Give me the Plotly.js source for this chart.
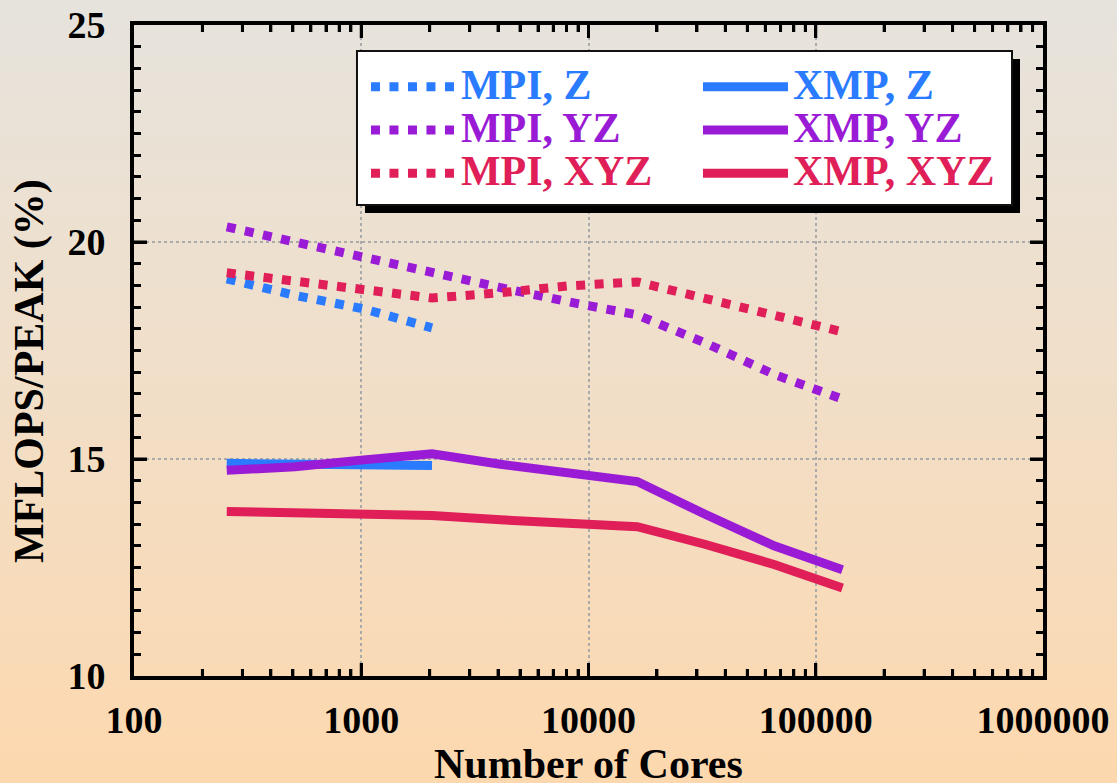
<!DOCTYPE html>
<html>
<head>
<meta charset="utf-8">
<script src="https://cdn.plot.ly/plotly-3.0.1.min.js"></script>
<style>
  html, body { margin: 0; padding: 0; }
  #chart { width: 1117px; height: 783px; background: linear-gradient(to bottom, #e6e3dd 0%, #f0dfca 45%, #fdd8ae 100%); }
</style>
</head>
<body>
<div id="chart"></div>
<script>
const cores = [256, 512, 1024, 2048, 4096, 8192, 16384, 32768, 65536, 131072];
const coresZ = [256, 512, 1024, 2048];

const mpiZ   = [19.15, 18.77, 18.46, 18.02];
const mpiYZ  = [20.35, 20.00, 19.64, 19.25, 18.95, 18.62, 18.32, 17.67, 16.95, 16.38];
const mpiXYZ = [19.29, 19.08, 18.92, 18.71, 18.83, 18.99, 19.08, 18.71, 18.30, 17.93];

const xmpZ   = [14.90, 14.88, 14.84, 14.85];
const xmpYZ  = [14.74, 14.82, 14.98, 15.12, 14.88, 14.67, 14.48, 13.72, 13.00, 12.45];
const xmpXYZ = [13.79, 13.77, 13.74, 13.70, 13.60, 13.51, 13.44, 13.03, 12.57, 12.03];

const seriesNames = ['MPI, Z', 'XMP, Z', 'MPI, YZ', 'XMP, YZ', 'MPI, XYZ', 'XMP, XYZ'];
const xTickVals = [100, 1000, 10000, 100000, 1000000];
const xTickText = ['100', '1000', '10000', '100000', '1000000'];
const xInnerMajor = [1000, 10000, 100000];
const yTickVals = [10, 15, 20, 25];
const yInnerMajor = [15, 20];
const decades = [100, 1000, 10000, 100000];
const minorMultiples = [2, 3, 4, 5, 6, 7, 8, 9];
const xMinorVals = [];
decades.forEach(d => minorMultiples.forEach(m => xMinorVals.push(d * m)));

const xTitle = 'Number of Cores';
const yTitle = 'MFLOPS/PEAK (%)';

const BLUE = '#2a7bff', PURPLE = '#9a1bd6', RED = '#e01e58';
const DOT = '9px,9.5px';

function nm(text, color) { return '<span style="color:' + color + ';font-size:42px">' + text + '</span>'; }

const traces = [
  {x: coresZ, y: mpiZ,  name: nm(seriesNames[0], BLUE),   line: {color: BLUE, width: 9, dash: DOT}},
  {x: coresZ, y: xmpZ,  name: nm(seriesNames[1], BLUE),   line: {color: BLUE, width: 9}},
  {x: cores,  y: mpiYZ, name: nm(seriesNames[2], PURPLE), line: {color: PURPLE, width: 9, dash: DOT}},
  {x: cores,  y: xmpYZ, name: nm(seriesNames[3], PURPLE), line: {color: PURPLE, width: 9}},
  {x: cores,  y: mpiXYZ, name: nm(seriesNames[4], RED),   line: {color: RED, width: 9, dash: DOT}},
  {x: cores,  y: xmpXYZ, name: nm(seriesNames[5], RED),   line: {color: RED, width: 9}}
].map(t => Object.assign({type: 'scatter', mode: 'lines'}, t));

const FONT = 'Liberation Serif, Times New Roman, serif';

// plot-area size in px (for tick-mark lengths in paper units)
const PLOT_W = 1117 - 134 - 74, PLOT_H = 783 - 25 - 107;
const MINOR_LEN = 7, MAJOR_LEN = 13;

// tick marks drawn as shapes positioned by the x axis scale (both bottom and top)
const tickShapes = [];
function xTick(v, len) {
  const h = len / PLOT_H;
  const st = {type: 'line', xref: 'x', yref: 'paper', x0: v, x1: v, line: {color: '#000', width: 3}, layer: 'above'};
  tickShapes.push(Object.assign({}, st, {y0: 0, y1: h}));
  tickShapes.push(Object.assign({}, st, {y0: 1, y1: 1 - h}));
}
function yTick(v, len) {
  const w = len / PLOT_W;
  const st = {type: 'line', xref: 'paper', yref: 'y', y0: v, y1: v, line: {color: '#000', width: 3}, layer: 'above'};
  tickShapes.push(Object.assign({}, st, {x0: 0, x1: w}));
  tickShapes.push(Object.assign({}, st, {x0: 1, x1: 1 - w}));
}
xMinorVals.forEach(v => xTick(v, MINOR_LEN));
xInnerMajor.forEach(v => xTick(v, MAJOR_LEN));
yInnerMajor.forEach(v => yTick(v, MAJOR_LEN));

const layout = {
  width: 1117, height: 783,
  paper_bgcolor: 'rgba(0,0,0,0)',
  plot_bgcolor: 'rgba(0,0,0,0)',
  margin: {l: 134, r: 74, t: 25, b: 107},
  font: {family: FONT, color: '#000', weight: 'bold'},
  showlegend: true,
  legend: {
    orientation: 'h',
    x: 0.2552, y: 0.9462, xanchor: 'left', yanchor: 'top',
    bgcolor: 'rgba(0,0,0,0)', borderwidth: 0,
    font: {family: FONT, size: 31, weight: 'bold'},
    itemwidth: 85, entrywidth: 232, entrywidthmode: 'pixels',
    traceorder: 'normal'
  },
  xaxis: {
    type: 'log', range: [2, 6],
    tickvals: xTickVals, ticktext: xTickText,
    ticks: 'inside', ticklen: MAJOR_LEN, tickwidth: 3, tickcolor: '#000',
    minor: {ticks: 'inside', ticklen: MINOR_LEN, tickwidth: 3, tickcolor: '#000', tickvals: xMinorVals, showgrid: false},
    showline: true, linewidth: 4, linecolor: '#000', mirror: 'allticks',
    showgrid: true, gridcolor: '#aaaaaa', gridwidth: 2, griddash: 'dot',
    zeroline: false,
    tickfont: {family: FONT, size: 38, weight: 'bold'},
    ticklabelstandoff: 7
  },
  yaxis: {
    range: [10, 25],
    tickvals: yTickVals,
    ticks: 'inside', ticklen: MAJOR_LEN, tickwidth: 3, tickcolor: '#000',
    minor: {ticks: 'inside', ticklen: MINOR_LEN, tickwidth: 3, tickcolor: '#000', dtick: 0.5, showgrid: false},
    showline: true, linewidth: 4, linecolor: '#000', mirror: 'allticks',
    showgrid: true, gridcolor: '#aaaaaa', gridwidth: 2, griddash: 'dot',
    zeroline: false,
    tickfont: {family: FONT, size: 38, weight: 'bold'},
    ticklabelstandoff: 17
  },
  annotations: [
    {text: yTitle, xref: 'paper', yref: 'paper', x: -0.1155, y: 0.4685,
     xanchor: 'center', yanchor: 'middle', textangle: -90, showarrow: false,
     font: {family: FONT, size: 42, weight: 'bold', color: '#000'}},
    {text: xTitle, xref: 'paper', yref: 'paper', x: 0.5, y: -0.1352,
     xanchor: 'center', yanchor: 'middle', showarrow: false,
     font: {family: FONT, size: 42, weight: 'bold', color: '#000'}}
  ],
  shapes: tickShapes.concat([
    {type: 'rect', xref: 'paper', yref: 'paper', x0: 0.2541, x1: 0.9747, y0: 0.7112, y1: 0.9478,
     fillcolor: '#000', line: {width: 0}, layer: 'above'},
    {type: 'rect', xref: 'paper', yref: 'paper', x0: 0.2453, x1: 0.9659, y0: 0.7235, y1: 0.9601,
     fillcolor: '#fff', line: {width: 2, color: '#111'}, layer: 'above'}
  ])
};

Plotly.newPlot('chart', traces, layout, {displayModeBar: false, staticPlot: true});
</script>
</body>
</html>
